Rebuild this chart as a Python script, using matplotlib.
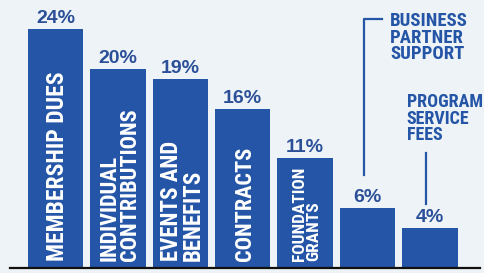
import matplotlib
matplotlib.use("Agg")
import matplotlib.pyplot as plt
from matplotlib import font_manager

categories = ["MEMBERSHIP DUES", "INDIVIDUAL\nCONTRIBUTIONS", "EVENTS AND\nBENEFITS",
              "CONTRACTS", "FOUNDATION\nGRANTS", "BUSINESS\nPARTNER\nSUPPORT",
              "PROGRAM\nSERVICE\nFEES"]
values = [24, 20, 19, 16, 11, 6, 4]
value_labels = ["24%", "20%", "19%", "16%", "11%", "6%", "4%"]

# styles
names = {f.name for f in font_manager.fontManager.ttflist}
narrow = next((n for n in ["Roboto Condensed", "Archivo Narrow", "Barlow Condensed",
                           "Liberation Sans Narrow", "DejaVu Sans"] if n in names))
pct_font = next((n for n in ["Liberation Sans", "DejaVu Sans"] if n in names))
inside_sizes = [17, 16, 16.5, 16, 12.5]

BAR = "#2455a6"
TXT = "#2b4f98"
BG = "#edf3f6"

fig = plt.figure(figsize=(4.85, 2.73), dpi=100, facecolor=BG)
ax = fig.add_axes([0, 0, 1, 1])
ax.set_facecolor(BG)
ax.axis("off")

step = 62.4
x0 = 55.5
ax.set_xlim(-x0 / step, (485 - x0) / step)
ppp = 9.96
ax.set_ylim(-5 / ppp, 268 / ppp)

xs = list(range(len(values)))
ax.bar(xs, values, width=0.885, color=BAR, zorder=2)
ax.axhline(0, xmin=10 / 485, xmax=480 / 485, color="#111111", lw=1.6, zorder=3)

for x, v, lab in zip(xs, values, value_labels):
    ax.annotate(lab, (x, v), xytext=(0, 1.5), textcoords="offset points",
                ha="center", va="bottom", color=TXT, fontsize=14,
                fontweight="bold", family=pct_font)

for i in range(5):
    ax.text(xs[i] + 0.03, 0.75, categories[i], rotation=90, ha="center", va="bottom",
            multialignment="left", color="white", fontsize=inside_sizes[i],
            fontweight=800, family=narrow, linespacing=0.92, zorder=4)

# callouts
ax.plot([4.944, 4.944, 5.23], [9.34, 25.0, 25.0], color=BAR, lw=1.6, zorder=2)
ax.text(5.36, 25.7, categories[5], ha="left", va="top", color=BAR, fontsize=13.5,
        fontweight=800, family=narrow, linespacing=0.9)
ax.plot([5.94, 5.94], [11.5, 6.4], color=BAR, lw=1.6, zorder=2)
ax.text(5.63, 17.6, categories[6], ha="left", va="top", color=BAR, fontsize=13,
        fontweight=800, family=narrow, linespacing=0.92)

fig.savefig("out.png", dpi=100, facecolor=BG)
